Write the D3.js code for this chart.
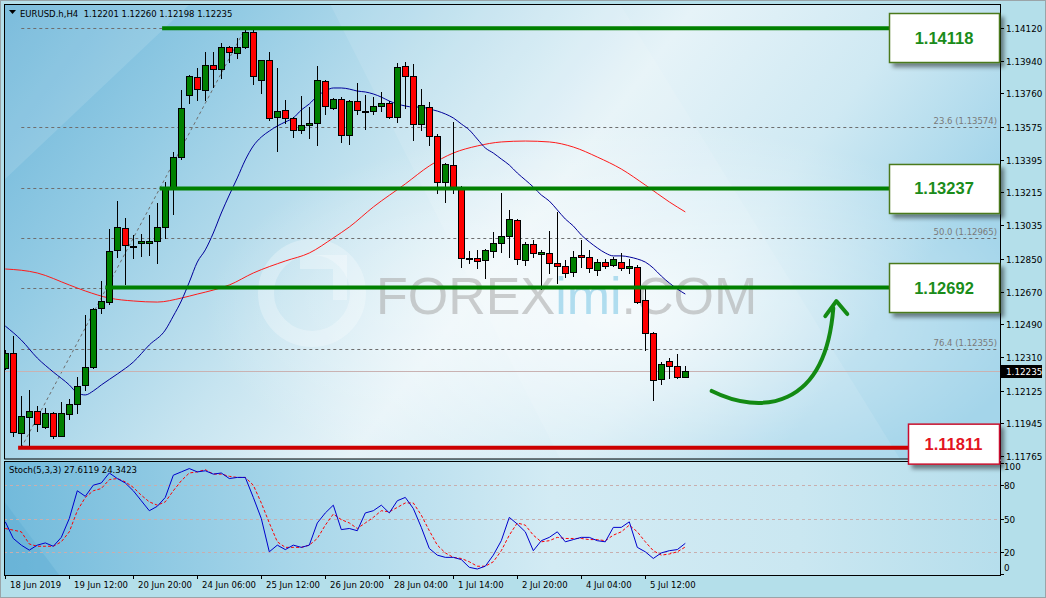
<!DOCTYPE html>
<html><head><meta charset="utf-8">
<script src="https://cdn.jsdelivr.net/npm/d3@7"></script>
<style>html,body{margin:0;padding:0;background:#b6e0ea;}svg{display:block}</style>
</head><body><svg id="c" width="1046" height="598"></svg>
<script>
// ---------------- DATA ----------------
const symbol = "EURUSD.h,H4";
const open = [1.12249,1.12332,1.11892,1.11980,1.12013,1.11925,1.12002,1.11875,1.11996,1.12051,
1.12156,1.12255,1.12579,1.12612,1.12899,1.13020,1.12918,1.12937,1.12937,1.12948,
1.13025,1.13245,1.13410,1.13751,1.13850,1.13779,1.13916,1.13894,1.14016,1.13982,
1.14016,1.14098,1.13834,1.13944,1.13630,1.13669,1.13625,1.13559,1.13586,1.13597,
1.13828,1.13680,1.13729,1.13531,1.13718,1.13660,1.13663,1.13691,1.13707,1.13630,
1.13911,1.13856,1.13592,1.13685,1.13526,1.13273,1.13366,1.13240,1.12854,1.12854,
1.12843,1.12893,1.12937,1.12976,1.13064,1.12843,1.12932,1.12877,1.12882,1.12827,
1.12810,1.12777,1.12871,1.12860,1.12788,1.12832,1.12816,1.12832,1.12799,1.12805,
1.12623,1.12442,1.12189,1.12288,1.12260,1.12201];
const high = [1.12348,1.12425,1.12095,1.12128,1.12040,1.12029,1.12007,1.12062,1.12079,1.12200,
1.12541,1.12579,1.12728,1.13014,1.13168,1.13075,1.12981,1.12987,1.13091,1.13157,
1.13273,1.13438,1.13779,1.13861,1.13900,1.13988,1.13988,1.14037,1.14020,1.14065,
1.14112,1.14118,1.13944,1.13988,1.13900,1.13724,1.13630,1.13746,1.13685,1.13911,
1.13834,1.13735,1.13740,1.13724,1.13817,1.13751,1.13740,1.13768,1.13718,1.13927,
1.13933,1.13922,1.13784,1.13713,1.13537,1.13377,1.13603,1.13251,1.12893,1.12899,
1.12904,1.12998,1.13212,1.13119,1.13069,1.12943,1.12954,1.12899,1.13003,1.13108,
1.12843,1.12893,1.12954,1.12899,1.12849,1.12849,1.12860,1.12882,1.12849,1.12816,
1.12689,1.12447,1.12282,1.12304,1.12326,1.12260];
const low = [1.12244,1.11875,1.11826,1.11815,1.11903,1.11919,1.11864,1.11875,1.11969,1.12002,
1.12128,1.12249,1.12552,1.12601,1.12860,1.12711,1.12854,1.12866,1.12871,1.12827,
1.12965,1.13097,1.13399,1.13707,1.13724,1.13724,1.13795,1.13845,1.13933,1.13955,
1.14010,1.13811,1.13762,1.13614,1.13443,1.13597,1.13520,1.13542,1.13515,1.13476,
1.13647,1.13674,1.13493,1.13482,1.13647,1.13564,1.13647,1.13663,1.13625,1.13603,
1.13680,1.13504,1.13559,1.13476,1.13212,1.13163,1.13212,1.12805,1.12827,1.12799,
1.12744,1.12860,1.12888,1.12860,1.12821,1.12816,1.12860,1.12684,1.12772,1.12717,
1.12750,1.12755,1.12805,1.12777,1.12761,1.12799,1.12810,1.12788,1.12772,1.12607,
1.12348,1.12073,1.12161,1.12194,1.12194,1.12198];
const close = [1.12332,1.11897,1.11985,1.12013,1.11941,1.12002,1.11875,1.12002,1.12051,1.12150,
1.12255,1.12574,1.12618,1.12893,1.13025,1.12926,1.12921,1.12948,1.12948,1.13025,
1.13245,1.13410,1.13680,1.13856,1.13784,1.13916,1.13894,1.14016,1.13988,1.14016,
1.14098,1.13856,1.13944,1.13625,1.13663,1.13625,1.13559,1.13586,1.13597,1.13834,
1.13691,1.13729,1.13531,1.13718,1.13669,1.13666,1.13691,1.13707,1.13630,1.13905,
1.13856,1.13592,1.13696,1.13526,1.13273,1.13372,1.13240,1.12854,1.12857,1.12838,
1.12899,1.12937,1.12976,1.13069,1.12849,1.12932,1.12882,1.12888,1.12827,1.12810,
1.12772,1.12860,1.12860,1.12799,1.12832,1.12810,1.12849,1.12799,1.12810,1.12612,
1.12442,1.12183,1.12271,1.12260,1.12200,1.12235];

// moving averages (bar index, price)
const maFastIdx = [0,2,4,6,8,9,10,11,12,14,16,18,20,21,22,23,24,25,26,27,28,29,30,31,32,33,34,35,36,37,38,39,40,41,42,43,44,45,46,47,48,49,50,51,52,53,54,55,56,57,58,59,60,61,62,63,64,65,66,67,68,69,70,71,72,73,74,75,76,77,78,79,80,81,82,83,84,85];
const maFast = [1.12480,1.12403,1.12304,1.12227,1.12156,1.12112,1.12101,1.12123,1.12156,1.12216,1.12282,1.12376,1.12458,1.12535,1.12618,1.12722,1.12832,1.12899,1.12992,1.13102,1.13201,1.13295,1.13394,1.13471,1.13520,1.13553,1.13581,1.13603,1.13625,1.13669,1.13702,1.13746,1.13773,1.13790,1.13790,1.13784,1.13773,1.13768,1.13757,1.13740,1.13718,1.13702,1.13691,1.13685,1.13685,1.13674,1.13663,1.13647,1.13625,1.13592,1.13559,1.13509,1.13460,1.13432,1.13399,1.13366,1.13322,1.13284,1.13245,1.13201,1.13168,1.13119,1.13069,1.13031,1.12981,1.12943,1.12910,1.12882,1.12866,1.12866,1.12860,1.12849,1.12832,1.12799,1.12755,1.12717,1.12684,1.12656];
const maSlowIdx = [0,4,8,10,13,16,19,22,24,26,28,31,35,38,41,43,46,50,53,56,59,62,65,68,71,74,77,80,83,85];
const maSlow = [1.12794,1.12772,1.12706,1.12673,1.12634,1.12618,1.12612,1.12634,1.12656,1.12678,1.12706,1.12772,1.12838,1.12882,1.12965,1.13025,1.13135,1.13262,1.13361,1.13432,1.13471,1.13493,1.13498,1.13493,1.13465,1.13410,1.13344,1.13256,1.13163,1.13108];

// Stochastic (5,3,3)
const stochK = [47,32,26,21.5,26,28,25,33,50,75,70,80,82,91,86,82,75,66,57,61,69,89,92,95,92,93,90,91,86,87,87,69,50,20,26,22,26,24,26,46,55,62,40,41,39,55,57,62,55,66,69,59,42,23,17,15,15,13,6,4.5,7,17,30,51,45,38,21,30,33,38,29,31,33,33,30,29,42,42,47,24,20,14,19,21,22,27.6119];
const stochD = [41,39.5,38,27,25,25,25,29,38,57,69,75,77,85,86,83,78,71,65,62,65,75,84,91,92,94,90,90,88,87,87,80,64,46,29,24,24,24,26,32,44,54,49,46,41,46,51,57,56,60,64,64,53,39,26,19,15,14,11,7,7,11,21,35,46,44,35,29,30,33,32,32,32,31,31,30,35,38,44,38,29,21,17,18,20,24.3423];
const stochLevels = [80,50,20];
const stochTicks = [100,80,50,20,0];

// axes
const priceTicks = [1.14120,1.13940,1.13760,1.13575,1.13395,1.13215,1.13035,1.12850,1.12670,1.12490,1.12310,1.12125,1.11945,1.11765];
const timeLabelIdx = [0,8,16,24,32,40,48,56,64,72,80];
const timeLabels = ["18 Jun 2019","19 Jun 12:00","20 Jun 20:00","24 Jun 06:00","25 Jun 12:00","26 Jun 20:00","28 Jun 04:00","1 Jul 14:00","2 Jul 20:00","4 Jul 04:00","5 Jul 12:00"];

// Fibonacci retracement (from bar 2 low to bar 30 high)
const fibRatios = ["0.0","23.6","38.2","50.0","61.8","76.4","100.0"];
const fibValues = [1.14118,1.13574,1.13237,1.12965,1.12692,1.12355,1.11811];
const fibAnchorIdx = [2,30];
const fibAnchorPrice = [1.11811,1.14118];

// key levels
const levelValues = [1.14118,1.13237,1.12692,1.11811];
const levelStartIdx = [19.6,19.3,12.5,1.6];
const levelKind = ["resistance","resistance","resistance","support"];

// projected move arrow (bar index, price)
const arrowIdx = [88.3,94.3,102.5,103.5];
const arrowPrice = [1.12123,1.11991,1.12018,1.12579];

// ---------------- LAYOUT ----------------
const svg = d3.select("#c");
const L = 4, R = 1000, MT = 4, MB = 459, ST = 461, SB = 576;
const FONT = "DejaVu Sans, Verdana, sans-serif";
const x = d3.scaleLinear().domain([0, 85]).range([5.3, 685.3]);
const y = d3.scaleLinear().domain([1.11765, 1.14120]).range([456, 28]);
const ys = d3.scaleLinear().domain([0, 100]).range([574, 463]);

const defs = svg.append("defs");
function lin(id, x1,y1,x2,y2, stops){
  const g = defs.append("linearGradient").attr("id",id).attr("x1",x1).attr("y1",y1).attr("x2",x2).attr("y2",y2);
  stops.forEach(s=>g.append("stop").attr("offset",s[0]).attr("stop-color",s[1]).attr("stop-opacity",s[2]===undefined?1:s[2]));
}
lin("bgMain",0,0,1,0.35,[[0,"#6ab4d8"],[0.22,"#93cbe4"],[0.45,"#c6e4f0"],[0.62,"#e6f3f8"],[0.82,"#cfe9f3"],[1,"#a4d5ea"]]);
lin("bgStoch",0,0,1,0,[[0,"#72badb"],[0.3,"#a9d7ea"],[0.55,"#d3ebf4"],[0.8,"#cae7f1"],[1,"#b6deec"]]);
const rg = defs.append("radialGradient").attr("id","glow").attr("cx",0.62).attr("cy",0.68).attr("r",0.42);
rg.append("stop").attr("offset",0).attr("stop-color","#ffffff").attr("stop-opacity",0.75);
rg.append("stop").attr("offset",1).attr("stop-color","#ffffff").attr("stop-opacity",0);
const sh = defs.append("filter").attr("id","shadow").attr("x","-20%").attr("y","-20%").attr("width","150%").attr("height","160%");
sh.append("feDropShadow").attr("dx",4).attr("dy",4).attr("stdDeviation",2).attr("flood-color","#000").attr("flood-opacity",0.45);
defs.append("clipPath").attr("id","clipMain").append("rect").attr("x",L).attr("y",MT).attr("width",R-L).attr("height",MB-MT);
defs.append("clipPath").attr("id","clipStoch").append("rect").attr("x",L).attr("y",ST).attr("width",R-L).attr("height",SB-ST);

// window background
svg.append("rect").attr("width",1046).attr("height",598).attr("fill","#b4dfea");
svg.append("rect").attr("x",0.5).attr("y",0.5).attr("width",1045).attr("height",597).attr("fill","none").attr("stroke","#9aa4a8");

// main panel background
const main = svg.append("g").attr("clip-path","url(#clipMain)");
main.append("rect").attr("x",L).attr("y",MT).attr("width",R-L).attr("height",MB-MT).attr("fill","url(#bgMain)");
main.append("polygon").attr("points",`${L},${MT} 190,${MT} ${L},180`).attr("fill","#ffffff").attr("opacity",0.12);
main.append("polygon").attr("points",`330,${MT} 620,${MT} 900,${MB} 560,${MB}`).attr("fill","#ffffff").attr("opacity",0.10);
main.append("rect").attr("x",L).attr("y",MT).attr("width",R-L).attr("height",MB-MT).attr("fill","url(#glow)");

// watermark
main.append("circle").attr("cx",312).attr("cy",293).attr("r",46).attr("fill","none").attr("stroke","#ffffff").attr("stroke-width",16).attr("opacity",0.28);
main.append("path").attr("d","M300,262 L340,262 L340,300").attr("fill","none").attr("stroke","#ffffff").attr("stroke-width",14).attr("opacity",0.3);
const wm = main.append("text").attr("x",376).attr("y",314).attr("font-family","Liberation Sans, Arial, sans-serif").attr("font-size",52);
wm.append("tspan").text("FOREX").attr("fill","#a8a8a8").attr("opacity",0.55);
wm.append("tspan").text("imi").attr("fill","#9fd6ec").attr("opacity",0.8);
wm.append("tspan").text(".COM").attr("fill","#a8a8a8").attr("opacity",0.55);

// fib levels (labels of levels that sit under a key-level box are hidden, as in the reference)
fibValues.forEach((v,k)=>{
  main.append("line").attr("x1",x(fibAnchorIdx[0])).attr("x2",R-2)
    .attr("y1",Math.round(y(v))+0.5).attr("y2",Math.round(y(v))+0.5)
    .attr("stroke","#6e6e6e").attr("stroke-dasharray","3,3");
  if (levelValues.indexOf(v) === -1) {
    main.append("text").attr("x",R-3).attr("y",Math.round(y(v))-3).attr("text-anchor","end")
      .attr("font-family",FONT).attr("font-size",8.5).attr("fill","#7a7a7a")
      .text(`${fibRatios[k]} (${v.toFixed(5)})`);
  }
});
main.append("line").attr("x1",x(fibAnchorIdx[0])).attr("y1",y(fibAnchorPrice[0]))
  .attr("x2",x(fibAnchorIdx[1])).attr("y2",y(fibAnchorPrice[1]))
  .attr("stroke","#6e6e6e").attr("stroke-dasharray","3,3");

// current price line
const last = close[close.length-1];
main.append("line").attr("x1",L).attr("x2",R).attr("y1",Math.round(y(last))+0.5).attr("y2",Math.round(y(last))+0.5)
  .attr("stroke","#c9b2b2");

// moving averages
const lineGen = d3.line().curve(d3.curveMonotoneX);
main.append("path").attr("d",lineGen(maSlowIdx.map((d,k)=>[x(d),y(maSlow[k])])))
  .attr("fill","none").attr("stroke","#ff1a1a").attr("stroke-width",1);
main.append("path").attr("d",lineGen(maFastIdx.map((d,k)=>[x(d),y(maFast[k])])))
  .attr("fill","none").attr("stroke","#000099").attr("stroke-width",1);

// candles
const idx = d3.range(open.length);
const cg = main.append("g");
idx.forEach(i=>{
  const cx = Math.round(x(i));
  cg.append("line").attr("x1",cx+0.5).attr("x2",cx+0.5).attr("y1",Math.round(y(high[i]))).attr("y2",Math.round(y(low[i]))+1)
    .attr("stroke","#000").attr("stroke-width",1);
  const top = Math.round(y(Math.max(open[i],close[i])));
  const bot = Math.round(y(Math.min(open[i],close[i])));
  const col = close[i] > open[i] ? "#008000" : (close[i] < open[i] ? "#ff0000" : "#000");
  cg.append("rect").attr("x",cx-2.5).attr("y",top+0.5).attr("width",6).attr("height",Math.max(1,bot-top))
    .attr("fill",col).attr("stroke","#000").attr("stroke-width",1);
});

// key level lines
levelValues.forEach((v,k)=>{
  main.append("line").attr("x1",x(levelStartIdx[k])).attr("x2",R)
    .attr("y1",y(v)).attr("y2",y(v))
    .attr("stroke",levelKind[k]==="support"?"#cc0000":"#008000").attr("stroke-width",4);
});

// projected arrow
const ap = arrowIdx.map((d,k)=>[x(d),y(arrowPrice[k])]);
main.append("path").attr("d",`M${ap[0]}C${ap[1]} ${ap[2]} ${ap[3]}`)
  .attr("fill","none").attr("stroke","#138a13").attr("stroke-width",4).attr("stroke-linecap","round");
const tip = [ap[3][0]+3, ap[3][1]-7];
main.append("path").attr("d",`M${tip[0]-11},${tip[1]+15} L${tip[0]},${tip[1]} L${tip[0]+11},${tip[1]+13}`)
  .attr("fill","none").attr("stroke","#138a13").attr("stroke-width",4).attr("stroke-linecap","round").attr("stroke-linejoin","round");

// header
svg.append("path").attr("d","M9,10 L16,10 L12.5,14 Z").attr("fill","#000");
svg.append("text").attr("x",20).attr("y",16.5).attr("font-family",FONT).attr("font-size",8.5).attr("fill","#000")
  .attr("xml:space","preserve")
  .text(`${symbol}  ${open[85].toFixed(5)} ${high[85].toFixed(5)} ${low[85].toFixed(5)} ${close[85].toFixed(5)}`);

// stochastic panel
const st = svg.append("g").attr("clip-path","url(#clipStoch)");
st.append("rect").attr("x",L).attr("y",ST).attr("width",R-L).attr("height",SB-ST).attr("fill","url(#bgStoch)");
st.append("polygon").attr("points",`${L},${SB} ${L},${ST+40} 60,${SB}`).attr("fill","#5aa9d0").attr("opacity",0.35);
stochLevels.forEach(v=>{
  st.append("line").attr("x1",L).attr("x2",R).attr("y1",Math.round(ys(v))+0.5).attr("y2",Math.round(ys(v))+0.5)
    .attr("stroke","#c8aeae").attr("stroke-dasharray","3,3");
});
const sl = d3.line();
st.append("path").attr("d",sl(idx.map(i=>[x(i),ys(stochD[i])]))).attr("fill","none")
  .attr("stroke","#ff0000").attr("stroke-dasharray","3,2");
st.append("path").attr("d",sl(idx.map(i=>[x(i),ys(stochK[i])]))).attr("fill","none")
  .attr("stroke","#0000cc");
svg.append("text").attr("x",9).attr("y",473).attr("font-family",FONT).attr("font-size",8.5).attr("fill","#000")
  .text(`Stoch(5,3,3) ${stochK[85].toFixed(4)} ${stochD[85].toFixed(4)}`);

// frames
svg.append("rect").attr("x",L+0.5).attr("y",MT+0.5).attr("width",R-L).attr("height",MB-MT-0.5).attr("fill","none").attr("stroke","#000");
svg.append("rect").attr("x",L+0.5).attr("y",ST+0.5).attr("width",R-L).attr("height",SB-ST-1).attr("fill","none").attr("stroke","#000");

// price axis
const ax = svg.append("g");
priceTicks.forEach(v=>{
  const yy = Math.round(y(v))+0.5;
  ax.append("line").attr("x1",R).attr("x2",R+4).attr("y1",yy).attr("y2",yy).attr("stroke","#000");
  ax.append("text").attr("x",R+6).attr("y",yy+3).attr("font-family",FONT).attr("font-size",8.8).attr("fill","#000").text(v.toFixed(5));
});
const ly = Math.round(y(last));
ax.append("rect").attr("x",R+1).attr("y",ly-6).attr("width",41).attr("height",13).attr("fill","#000");
ax.append("text").attr("x",R+6).attr("y",ly+4).attr("font-family",FONT).attr("font-size",8.8).attr("fill","#fff").text(last.toFixed(5));

// stoch axis
stochTicks.forEach(v=>{
  const yy = Math.round(ys(v))+0.5;
  ax.append("line").attr("x1",R).attr("x2",R+4).attr("y1",yy).attr("y2",yy).attr("stroke","#000");
  const ty = Math.min(Math.max(yy, 467), 568);
  ax.append("text").attr("x",R+4).attr("y",ty+3).attr("font-family",FONT).attr("font-size",8.8).attr("fill","#000").text(v);
});

// time axis
timeLabelIdx.forEach((d,k)=>{
  const xx = Math.round(x(d))+0.5;
  ax.append("line").attr("x1",xx).attr("x2",xx).attr("y1",SB-1).attr("y2",SB+3).attr("stroke","#000");
  ax.append("text").attr("x",xx+4.5).attr("y",588).attr("font-family",FONT).attr("font-size",8.5).attr("fill","#000").text(timeLabels[k]);
});

// level boxes
levelValues.forEach((v,k)=>{
  const sup = levelKind[k]==="support";
  const w = sup ? 91 : 110, h = sup ? 40 : 49;
  const bx = R - 1 - w;
  let by = y(v) - h/2 - (sup ? 4 : 0);
  by = Math.max(by, 13);
  const g = svg.append("g");
  g.append("rect").attr("x",bx+0.5).attr("y",by+0.5).attr("width",w).attr("height",h)
    .attr("fill","#fff").attr("stroke",sup?"#c8102e":"#4b7a1c").attr("stroke-width",1.5).attr("filter","url(#shadow)");
  g.append("text").attr("x",bx+w/2).attr("y",by+h/2+6).attr("text-anchor","middle")
    .attr("font-family","Liberation Sans, Arial, sans-serif").attr("font-weight","bold").attr("font-size",16.5)
    .attr("fill",sup?"#e3141f":"#1a8c1a").text(v.toFixed(5));
});
</script></body></html>
